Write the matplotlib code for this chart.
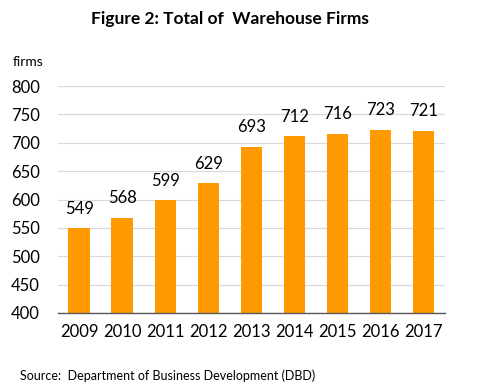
import matplotlib.pyplot as plt

# Data
years = ['2009', '2010', '2011', '2012', '2013', '2014', '2015', '2016', '2017']
firms = [549, 568, 599, 629, 693, 712, 716, 723, 721]
yticks = [400, 450, 500, 550, 600, 650, 700, 750, 800]

plt.rcParams['font.family'] = ['Lato', 'DejaVu Sans']

fig = plt.figure(figsize=(4.79, 3.91), dpi=100)
ax = fig.add_axes([0.121, 0.1995, 0.808, 0.5805])

x = list(range(len(years)))
ax.bar(x, [v - 400 for v in firms], bottom=400, width=0.51, color='#FF9900', zorder=3)
# value labels above bars
for xi, v in zip(x, firms):
    ax.text(xi, v + 20, str(v), ha='center', va='bottom', fontsize=12, color='black')

ax.set_xlim(-0.5, len(years) - 0.5)
ax.set_ylim(400, 800)
ax.set_yticks(yticks)
ax.set_xticks(x)
ax.set_xticklabels(years)
ax.tick_params(axis='both', length=0, labelsize=12, colors='black')
ax.tick_params(axis='y', pad=13)
ax.tick_params(axis='x', pad=8)
ax.yaxis.grid(True, color='#D9D9D9', linewidth=0.9, zorder=0)
for s in ['top', 'right', 'left']:
    ax.spines[s].set_visible(False)
ax.spines['bottom'].set_color('#595959')
ax.spines['bottom'].set_linewidth(1.0)
ax.spines['bottom'].set_zorder(4)

fig.text(0.481, 0.952, 'Figure 2: Total of  Warehouse Firms', ha='center', va='center',
         fontsize=12.5, fontweight='bold')
fig.text(0.027, 0.842, 'firms', ha='left', va='center', fontsize=10)
fig.text(0.042, 0.039, 'Source:  Department of Business Development (DBD)', ha='left',
         va='center', fontsize=9)

fig.savefig('out.png', dpi=100)
